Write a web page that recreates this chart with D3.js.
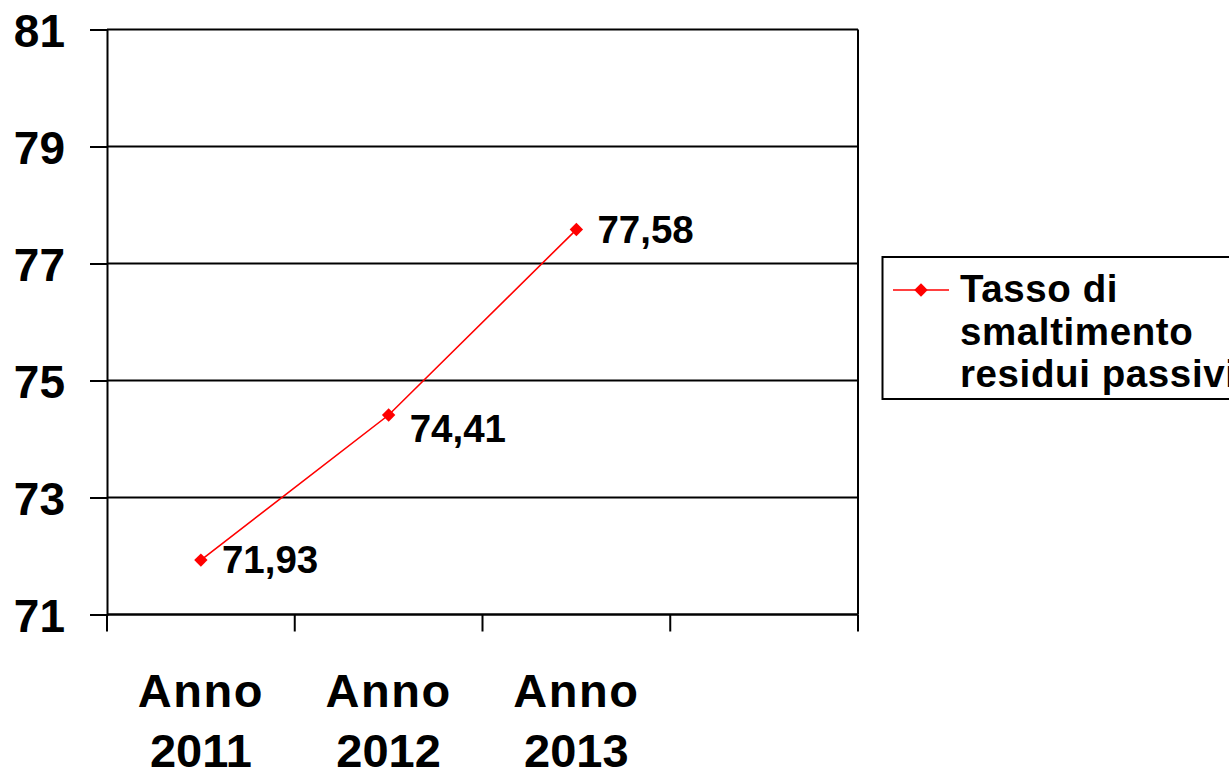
<!DOCTYPE html>
<html>
<head>
<meta charset="utf-8">
<script src="https://cdn.jsdelivr.net/npm/d3@7"></script>
<style>
  html, body { margin: 0; padding: 0; background: #fff; }
  svg { display: block; font-family: "Liberation Sans", Arial, sans-serif; font-weight: bold; }
</style>
</head>
<body>
<svg id="chart" width="1229" height="774"></svg>
<script>
// ---- data ----
const categories = ["Anno 2011", "Anno 2012", "Anno 2013", ""];
const values = [71.93, 74.41, 77.58];
const valueLabels = ["71,93", "74,41", "77,58"];
const yTicks = [71, 73, 75, 77, 79, 81];
const seriesName = ["Tasso di", "smaltimento", "residui passivi"];

// ---- layout ----
const svg = d3.select("#chart");
const plot = { left: 107, right: 858, top: 29.5, bottom: 614.5 };
const labelDy = [0, 14, 0];
const SW = 2;

const x = d3.scaleBand().domain(categories.map((d, i) => i)).range([plot.left, plot.right]);
const y = d3.scaleLinear().domain([71, 81]).range([plot.bottom, plot.top]);

// gridlines
svg.append("g").selectAll("line").data(yTicks).join("line")
  .attr("x1", plot.left).attr("x2", plot.right)
  .attr("y1", d => y(d)).attr("y2", d => y(d))
  .attr("stroke", "#000").attr("stroke-width", SW);

// right border
svg.append("line").attr("x1", plot.right).attr("x2", plot.right)
  .attr("y1", plot.top).attr("y2", plot.bottom)
  .attr("stroke", "#000").attr("stroke-width", SW);

// y axis
const yAxis = svg.append("g").attr("transform", `translate(${plot.left},0)`)
  .call(d3.axisLeft(y).tickValues(yTicks).tickSize(17).tickPadding(25).tickFormat(d3.format("d")));
yAxis.select(".domain").attr("stroke", "#000").attr("stroke-width", SW);
yAxis.selectAll(".tick line").attr("stroke", "#000").attr("stroke-width", SW);
yAxis.selectAll(".tick text").attr("font-size", 46).attr("font-weight", "bold")
  .attr("font-family", "'Liberation Sans', Arial, sans-serif").attr("fill", "#000")
  .attr("dy", "0.36em");

// x axis: ticks at band boundaries
const bounds = categories.map((d, i) => x(i)).concat([plot.right]);
svg.append("line").attr("x1", plot.left).attr("x2", plot.right)
  .attr("y1", plot.bottom).attr("y2", plot.bottom)
  .attr("stroke", "#000").attr("stroke-width", SW);
svg.append("g").selectAll("line").data(bounds).join("line")
  .attr("x1", d => d).attr("x2", d => d)
  .attr("y1", plot.bottom).attr("y2", plot.bottom + 17)
  .attr("stroke", "#000").attr("stroke-width", SW);

// x labels
const xl = svg.append("g").selectAll("text").data(categories.filter(d => d)).join("text")
  .attr("text-anchor", "middle")
  .attr("font-size", 47)
  .attr("fill", "#000");
xl.each(function(d, i) {
  const parts = d.split(" ");
  const t = d3.select(this);
  parts.forEach((p, j) => {
    t.append("tspan").attr("x", x(i) + x.bandwidth() / 2)
      .attr("y", 707 + j * 60)
      .attr("letter-spacing", j === 0 ? 1.5 : 0)
      .text(p);
  });
});

// line
const line = d3.line().x((d, i) => x(i) + x.bandwidth() / 2).y(d => y(d));
svg.append("path").datum(values).attr("d", line)
  .attr("fill", "none").attr("stroke", "#FF0000").attr("stroke-width", 1.6);

svg.append("g").selectAll("path").data(values).join("path")
  .attr("d", d3.symbol().type(d3.symbolSquare).size(90))
  .attr("transform", (d, i) => `translate(${x(i) + x.bandwidth() / 2},${y(d)}) rotate(45)`)
  .attr("fill", "#FF0000");

// data labels
svg.append("g").selectAll("text").data(values).join("text")
  .attr("x", (d, i) => x(i) + x.bandwidth() / 2 + 21)
  .attr("y", (d, i) => y(d) + 13 + labelDy[i])
  .attr("font-size", 38.5)
  .attr("fill", "#000")
  .text((d, i) => valueLabels[i]);

// legend
const lg = svg.append("g");
lg.append("rect").attr("x", 882.5).attr("y", 257).attr("width", 360).attr("height", 142)
  .attr("fill", "#fff").attr("stroke", "#000").attr("stroke-width", SW);
lg.append("line").attr("x1", 893).attr("x2", 949).attr("y1", 290).attr("y2", 290)
  .attr("stroke", "#FF0000").attr("stroke-width", 1.6);
lg.append("path").attr("d", d3.symbol().type(d3.symbolSquare).size(90))
  .attr("transform", "translate(921,290) rotate(45)").attr("fill", "#FF0000");
lg.append("text").attr("font-size", 38.5).attr("fill", "#000").attr("letter-spacing", 0.6)
  .selectAll("tspan").data(seriesName).join("tspan")
  .attr("x", 960).attr("y", (d, i) => 302 + i * 42.5).text(d => d);
</script>
</body>
</html>
